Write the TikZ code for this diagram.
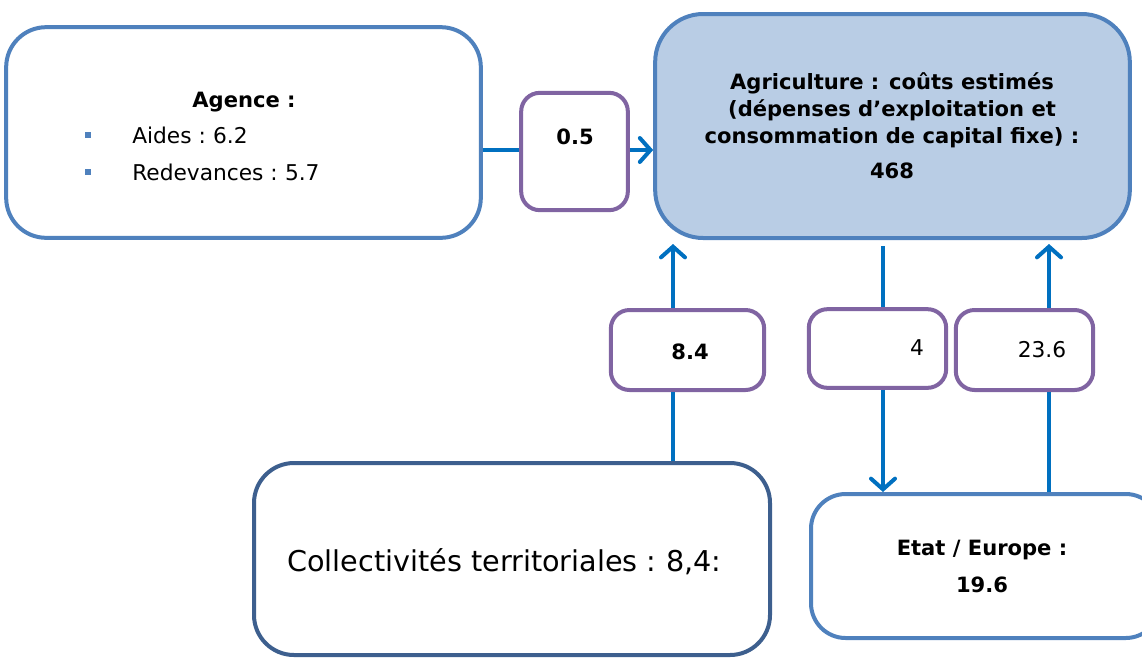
\documentclass[tikz,border=0pt]{standalone}
\usepackage{fontspec}
\setmainfont{DejaVu Sans}
\usetikzlibrary{arrows.meta}
\definecolor{boxblue}{HTML}{4F81BD}
\definecolor{darkblue}{HTML}{3D5F8E}
\definecolor{purp}{HTML}{8064A2}
\definecolor{arrowblue}{HTML}{0070C0}
\definecolor{fillblue}{HTML}{B9CDE5}
\tikzset{
  px/.style={x=0.75pt,y=-0.75pt},
  bigbox/.style={draw=boxblue,line width=3pt,fill=white,inner sep=0pt},
  valbox/.style={draw=purp,line width=3pt,fill=white,inner sep=0pt,rounded corners=14pt},
  flow/.style={draw=arrowblue,line width=3pt},
  flowarr/.style={flow,-{Straight Barb[length=8pt,width=18pt,line cap=round,line width=3pt]}},
  txt/.style={inner sep=0pt,font=\fontsize{16.3}{20}\selectfont},
  btxt/.style={inner sep=0pt,font=\fontsize{15.8}{20.3}\selectfont\bfseries},
  bullet/.style={fill=boxblue,minimum size=5pt,inner sep=0pt}
}
\begin{document}
\begin{tikzpicture}[px]
\useasboundingbox (0,0) rectangle (1142,658);
% boxes
\node[bigbox,rounded corners=30pt,minimum width=356pt,minimum height=158pt] (agence) at (243.5,132.5) {};
\node[bigbox,rounded corners=36pt,fill=fillblue,minimum width=356pt,minimum height=168pt] (agri) at (892.5,126) {};
\node[bigbox,draw=darkblue,rounded corners=30pt,minimum width=387pt,minimum height=144pt] (coll) at (512,559) {};
\node[bigbox,rounded corners=26pt,minimum width=262pt,minimum height=108pt,anchor=north west] (etat) at (809,492) {};
\node[valbox,minimum width=80pt,minimum height=88pt] (v05) at (574.5,151.5) {};
\node[valbox,minimum width=115pt,minimum height=60pt] (v84) at (687.5,350) {};
\node[valbox,minimum width=103pt,minimum height=59pt] (v4) at (877.5,348.5) {};
\node[valbox,minimum width=103pt,minimum height=60pt] (v236) at (1024.5,350) {};
% texts
\node[btxt] (tagence) at (244,102) {Agence :};
\node[bullet] (b1) at (88,135) {};
\node[bullet] (b2) at (88,172) {};
\node[txt,anchor=west] (taides) at (132,135) {Aides :\,\,6.2};
\node[txt,anchor=west] (tred) at (132,172) {Redevances :\,\,5.7};
\node[btxt,align=center] (tagri) at (892,110) {Agriculture : coûts estimés\\(dépenses d’exploitation et\\consommation de capital fixe) :};
\node[btxt] (t468) at (892,171) {468};
\node[btxt] (t05) at (575,137) {0.5};
\node[btxt] (t84) at (690,352) {8.4};
\node[txt] (t4) at (917,348) {4};
\node[txt] (t236) at (1042,350) {23.6};
\node[txt,font=\fontsize{21.5}{25}\selectfont,anchor=west] (tcoll) at (287,562) {Collectivités territoriales :\,\,8,4:};
\node[btxt] (tetat) at (982,550) {Etat / Europe :};
\node[btxt] (t196) at (982,585) {19.6};
% connectors
\draw[flow] (agence.east |- 0,150) -- (v05.west |- 0,150);
\draw[flowarr] (v05.east |- 0,150) -- (agri.west |- 0,150);
\draw[flow] (coll.north -| 673,0) -- (v84.south -| 673,0);
\draw[flowarr] (v84.north -| 673,0) -- ([yshift=-3pt]agri.south -| 673,0);
\coordinate (s4) at (883,246);
\draw[flow] (s4) -- (v4.north -| 883,0);
\draw[flowarr] (v4.south -| 883,0) -- (etat.north -| 883,0);
\draw[flow] (etat.north -| 1049,0) -- (v236.south -| 1049,0);
\draw[flowarr] (v236.north -| 1049,0) -- ([yshift=-3pt]agri.south -| 1049,0);
\end{tikzpicture}
\end{document}
